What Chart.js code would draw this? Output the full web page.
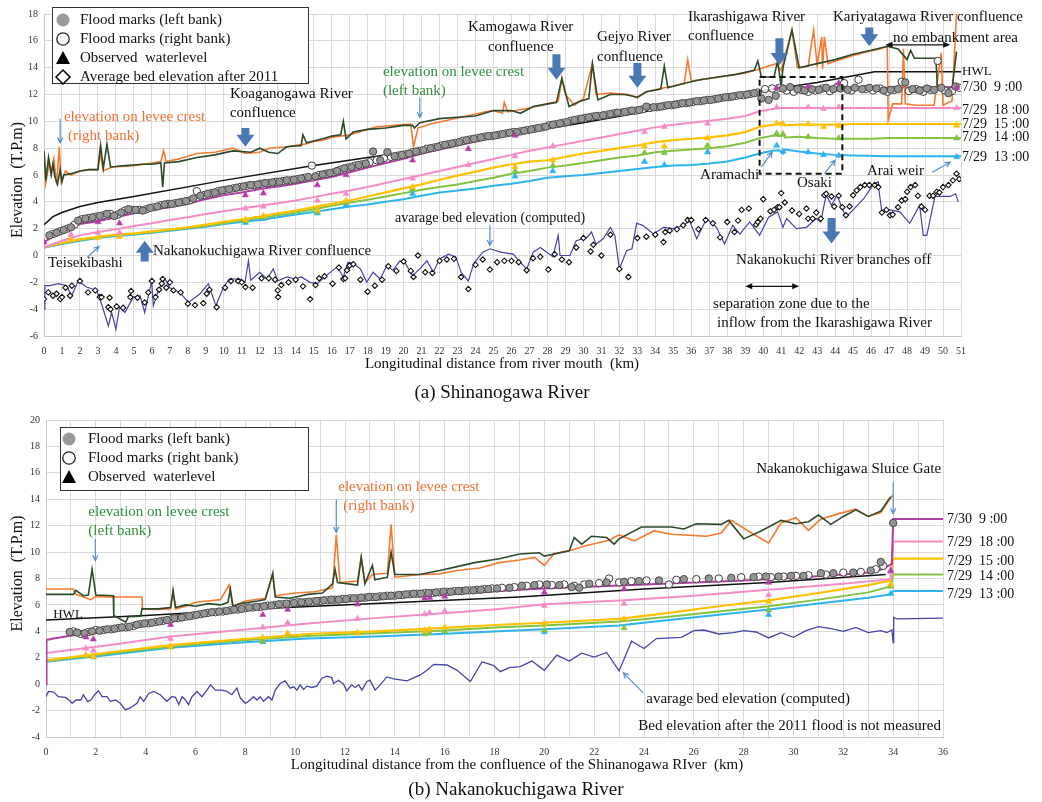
<!DOCTYPE html>
<html><head><meta charset="utf-8">
<script src="https://cdn.jsdelivr.net/npm/chart.js@4"></script>
<style>
html,body{margin:0;padding:0;background:#fff;}
#wrapA{position:absolute;left:0;top:0;width:1042px;height:405px;}
#wrapB{position:absolute;left:0;top:405px;width:1042px;height:397px;}
</style></head><body>
<div id="wrapA"><canvas id="cA" width="1042" height="405"></canvas></div>
<div id="wrapB"><canvas id="cB" width="1042" height="397"></canvas></div>
<script>
// ================= (a) Shinanogawa River data =================
const LEVEE_L_A = [[0,7.8],[0.1,5.6],[0.25,7.3],[0.4,6.0],[0.5,6.8],[0.6,5.9],[0.75,5.3],[0.9,6.4],[1.0,5.5],[1.1,6.0],[1.5,6.1],[2.0,6.3],[2.5,6.4],[3.0,6.4],[3.15,8.2],[3.3,6.5],[3.5,8.3],[3.7,6.6],[4.5,6.7],[5.5,6.8],[6.0,6.8],[6.5,6.9],[6.6,5.1],[6.7,6.9],[7.5,7.0],[8.5,7.3],[9.5,7.5],[10.5,7.8],[11.5,7.7],[12.0,8.0],[12.5,7.7],[13.0,7.6],[13.5,8.1],[14.3,8.2],[14.4,9.0],[14.6,8.4],[15.5,8.7],[16.0,8.9],[16.5,9.0],[16.65,10.0],[16.8,8.7],[17.2,9.2],[18.0,9.4],[19.0,9.5],[20.0,9.7],[20.5,9.7],[20.6,9.5],[20.9,9.9],[22.0,10.2],[23.0,10.3],[24.0,10.4],[25.0,10.8],[26.0,10.8],[26.5,10.6],[27.2,11.1],[28.0,11.3],[28.5,11.4],[28.8,13.2],[29.2,11.1],[29.8,11.5],[30.3,11.7],[30.5,14.3],[30.8,11.6],[31.5,12.0],[32.3,12.0],[33.0,11.8],[33.5,12.2],[34.3,12.4],[34.5,14.1],[34.7,12.5],[35.5,12.8],[36.5,13.1],[37.5,13.3],[38.5,13.5],[39.5,13.8],[39.7,14.5],[39.9,13.3],[40.6,13.3],[40.8,14.5],[41.0,12.6],[41.1,14.0],[41.6,16.8],[42.0,14.0],[43.0,14.3],[44.0,14.6],[45.0,15.0],[46.0,15.3],[46.9,15.6],[47.5,15.4],[48.0,14.6],[48.2,15.3],[48.4,14.7],[49.6,14.7],[49.7,12.4],[50.5,12.4],[50.75,15.2]];
const LEVEE_R_A = [[0,7.8],[0.1,5.4],[0.3,7.0],[0.4,6.2],[0.55,7.2],[0.7,5.3],[0.85,8.1],[0.95,5.5],[1.2,6.3],[1.5,6.0],[2.0,6.3],[2.5,6.4],[3.0,6.4],[3.1,7.8],[3.3,6.3],[3.8,6.6],[5.0,6.7],[6.0,6.9],[6.5,7.0],[6.65,7.8],[6.8,7.0],[7.5,7.2],[8.5,7.6],[9.5,7.7],[10.5,8.0],[11.2,7.6],[12.0,7.7],[12.5,8.0],[13.5,8.1],[14.5,8.3],[15.0,8.5],[15.5,8.6],[16.0,8.8],[17.0,9.0],[18.5,9.6],[19.5,9.7],[20.4,9.8],[20.55,8.1],[20.8,9.5],[21.5,9.8],[22.5,10.1],[23.5,10.4],[24.5,10.7],[25.0,10.8],[25.5,10.6],[25.6,11.4],[25.8,10.7],[27.0,11.0],[28.0,11.3],[28.6,11.5],[28.8,13.2],[29.0,12.0],[29.5,11.2],[30.0,11.7],[30.5,14.3],[30.7,12.0],[31.5,12.1],[32.5,12.0],[33.0,11.75],[33.5,12.2],[34.5,12.5],[35.6,12.8],[35.8,14.6],[36.0,13.0],[37.0,13.2],[38.0,13.4],[39.0,13.6],[39.8,13.9],[40.7,14.3],[41.0,13.8],[41.6,16.8],[41.9,14.0],[42.5,14.1],[42.8,16.8],[43.0,14.2],[43.25,16.3],[43.3,13.9],[43.4,16.3],[43.6,14.3],[44.5,14.7],[45.5,15.1],[46.5,15.4],[46.9,15.6],[46.95,10.1],[47.2,11.3],[47.7,11.3],[47.8,15.4],[47.9,11.3],[48.5,11.2],[49.5,11.2],[49.9,15.1],[50.0,11.2],[50.3,11.4],[50.5,11.5],[50.75,18.0]];
const HWL_A = [[0,2.3],[0.5,2.9],[1,3.2],[2,3.65],[3,3.95],[5,4.4],[10,5.6],[15,6.7],[20,7.7],[25,8.8],[30,9.9],[35,11.1],[40,12.3],[43,12.9],[46.2,13.7],[51,13.7]];
const CALC_0730_09_A = [[0,1.0],[0.5,1.4],[1,1.75],[1.5,2.1],[2,2.35],[3,2.55],[4,2.85],[5,3.15],[6,3.4],[7,3.6],[8,3.85],[9,4.2],[10,4.5],[11,4.7],[12,4.95],[13,5.15],[14,5.35],[15,5.6],[16,5.85],[17,6.2],[18,6.55],[19,6.9],[20,7.2],[21,7.6],[22,7.9],[23,8.2],[24,8.5],[25,8.8],[26,9.1],[27,9.35],[28,9.55],[29,9.8],[30,10.05],[31,10.3],[32,10.55],[33,10.75],[34,11.0],[35,11.2],[36,11.4],[37,11.6],[38,11.8],[39,12.0],[40,12.25],[41,12.5],[42,12.5],[46,12.5],[51,12.55]];
const CALC_0729_18_A = [[0,0.6],[1,1.1],[2,1.5],[3,1.75],[4,1.95],[5,2.2],[6,2.4],[7,2.65],[8,2.85],[9,3.1],[10,3.3],[11,3.5],[12,3.7],[13,3.9],[14,4.1],[15,4.35],[16,4.6],[17,4.85],[18,5.1],[19,5.4],[20,5.7],[21,6.0],[22,6.3],[23,6.6],[24,6.9],[25,7.2],[26,7.5],[27,7.8],[28,8.05],[29,8.3],[30,8.55],[31,8.8],[32,9.05],[33,9.3],[34,9.55],[35,9.75],[36,9.9],[37,10.05],[38,10.2],[39,10.4],[39.8,10.75],[40.7,10.95],[41,11.0],[51,11.0]];
const CALC_0729_15_A = [[0,0.65],[1,0.95],[2,1.2],[3,1.4],[4,1.55],[5,1.65],[6,1.8],[7,1.95],[8,2.1],[9,2.3],[10,2.5],[11,2.7],[12,2.9],[13,3.15],[14,3.35],[15,3.6],[16,3.85],[17,4.1],[18,4.4],[19,4.7],[20,5.0],[21,5.3],[22,5.65],[23,5.95],[24,6.25],[25,6.55],[26,6.8],[27,7.0],[28,7.1],[29,7.35],[30,7.6],[31,7.8],[32,8.0],[33,8.2],[34,8.45],[35,8.6],[36,8.7],[37,8.8],[38,8.95],[39,9.2],[39.8,9.6],[40.6,9.75],[41.1,9.9],[41.2,9.7],[42,9.75],[44,9.75],[45,9.8],[51,9.8]];
const CALC_0729_14_A = [[0,0.6],[1,0.9],[2,1.15],[3,1.35],[4,1.5],[5,1.6],[6,1.75],[7,1.9],[8,2.05],[9,2.2],[10,2.4],[11,2.6],[12,2.8],[13,3.0],[14,3.2],[15,3.45],[16,3.7],[17,3.95],[18,4.15],[19,4.4],[20,4.65],[21,4.9],[22,5.1],[23,5.3],[24,5.55],[25,5.8],[26,6.1],[27,6.3],[28,6.55],[29,6.7],[30,6.9],[31,7.1],[32,7.3],[33,7.45],[34,7.7],[35,7.8],[36,7.9],[37,8.0],[38,8.15],[39,8.4],[39.8,8.75],[40.6,8.95],[41,8.9],[41.1,9.1],[41.2,8.8],[42,8.85],[43,8.75],[44,8.7],[46,8.7],[47,8.75],[51,8.75]];
const CALC_0729_13_A = [[0,0.6],[1,0.85],[2,1.1],[3,1.3],[4,1.45],[5,1.55],[6,1.7],[7,1.85],[8,2.0],[9,2.15],[10,2.35],[11,2.5],[12,2.65],[13,2.85],[14,3.05],[15,3.25],[16,3.45],[17,3.65],[18,3.8],[19,4.0],[20,4.2],[21,4.45],[22,4.7],[23,4.85],[24,5.0],[25,5.2],[26,5.35],[27,5.55],[28,5.8],[29,5.9],[30,6.0],[31,6.15],[32,6.3],[33,6.45],[34,6.6],[35,6.7],[36,6.75],[37,6.85],[38,7.0],[39,7.3],[39.8,7.6],[40.5,7.8],[40.9,7.85],[41.1,7.6],[41.2,7.9],[42,7.75],[43,7.6],[44,7.5],[45,7.45],[47,7.4],[51,7.4]];
const FM_LEFT_A = [[0.3,1.5],[0.7,1.7],[1.1,1.9],[1.5,2.1],[1.9,2.6],[2.3,2.75],[2.7,2.85],[3.1,2.95],[3.5,3.1],[3.9,2.95],[4.3,3.2],[4.7,3.45],[5.1,3.4],[5.5,3.35],[5.9,3.55],[6.3,3.65],[6.7,3.8],[7.1,3.85],[7.5,3.95],[7.9,4.05],[8.3,4.25],[8.7,4.45],[9.1,4.6],[9.5,4.7],[9.9,4.85],[10.3,4.95],[10.7,5.05],[11.1,5.15],[11.5,5.25],[11.9,5.3],[12.3,5.4],[12.7,5.45],[13.1,5.5],[13.5,5.6],[13.9,5.65],[14.3,5.75],[14.7,5.85],[15.1,5.9],[15.5,6.05],[15.9,6.15],[16.3,6.3],[16.7,6.5],[17.1,6.6],[17.5,6.75],[17.9,6.85],[18.3,7.75],[18.7,7.1],[19.1,7.7],[19.5,7.4],[19.9,7.5],[20.3,7.6],[20.7,7.75],[21.1,7.85],[21.5,8.0],[21.9,8.1],[22.3,8.25],[22.7,8.35],[23.1,8.45],[23.5,8.6],[23.9,8.7],[24.3,8.8],[24.7,8.9],[25.1,8.95],[25.5,9.05],[25.9,9.15],[26.3,9.2],[26.7,9.3],[27.1,9.4],[27.5,9.5],[27.9,9.6],[28.3,9.75],[28.7,9.85],[29.1,9.95],[29.5,10.1],[29.9,10.2],[30.3,10.3],[30.7,10.4],[31.1,10.45],[31.5,10.55],[31.9,10.65],[32.3,10.7],[32.7,10.8],[33.1,10.85],[33.5,11.1],[33.9,11.05],[34.3,11.1],[34.7,11.2],[35.1,11.25],[35.5,11.35],[35.9,11.4],[36.3,11.5],[36.7,11.55],[37.1,11.6],[37.5,11.7],[37.9,11.8],[38.3,11.85],[38.7,11.95],[39.1,12.0],[39.5,12.1],[39.9,11.7],[40.3,11.6],[40.7,11.9],[41.1,12.45],[41.5,12.55],[41.9,12.4],[42.3,12.3],[42.7,12.4],[43.1,12.35],[43.5,12.5],[43.9,12.4],[44.3,12.45],[44.7,12.35],[45.1,12.5],[45.5,12.4],[45.9,12.5],[46.3,12.45],[46.7,12.3],[47.1,12.35],[47.5,12.4],[47.9,12.9],[48.3,12.4],[48.7,12.3],[49.1,12.45],[49.5,12.35],[49.9,12.5],[50.3,12.1],[50.7,12.6]];
const FM_RIGHT_A = [[0.5,1.6],[0.9,1.8],[1.3,2.0],[1.7,2.3],[2.1,2.7],[2.5,2.8],[2.9,2.9],[3.3,3.0],[3.7,3.1],[4.1,3.05],[4.5,3.35],[4.9,3.4],[5.3,3.4],[5.7,3.45],[6.1,3.6],[6.5,3.75],[6.9,3.85],[7.3,3.9],[7.7,4.0],[8.1,4.1],[8.5,4.8],[8.9,4.5],[9.3,4.65],[9.7,4.8],[10.1,4.9],[10.5,5.0],[10.9,5.1],[11.3,5.2],[11.7,5.25],[12.1,5.35],[12.5,5.4],[12.9,5.5],[13.3,5.55],[13.7,5.6],[14.1,5.7],[14.5,5.8],[14.9,6.7],[15.3,6.0],[15.7,6.1],[16.1,6.2],[16.5,6.4],[16.9,6.55],[17.3,6.7],[17.7,6.8],[18.1,6.95],[18.5,7.1],[18.9,7.25],[19.3,7.35],[19.7,7.45],[20.1,7.55],[20.5,7.7],[20.9,7.8],[21.3,7.95],[21.7,8.05],[22.1,8.2],[22.5,8.3],[22.9,8.4],[23.3,8.55],[23.7,8.65],[24.1,8.75],[24.5,8.85],[24.9,8.9],[25.3,9.0],[25.7,9.1],[26.1,9.2],[26.5,9.25],[26.9,9.35],[27.3,9.45],[27.7,9.55],[28.1,9.7],[28.5,9.8],[28.9,9.9],[29.3,10.05],[29.7,10.15],[30.1,10.25],[30.5,10.35],[30.9,10.4],[31.3,10.5],[31.7,10.6],[32.1,10.65],[32.5,10.75],[32.9,10.8],[33.3,10.9],[33.7,11.0],[34.1,11.05],[34.5,11.15],[34.9,11.2],[35.3,11.3],[35.7,11.35],[36.1,11.45],[36.5,11.5],[36.9,11.6],[37.3,11.65],[37.7,11.75],[38.1,11.8],[38.5,11.9],[38.9,11.95],[39.3,12.05],[39.7,12.15],[40.1,12.4],[40.5,12.45],[40.9,12.5],[41.3,12.3],[41.7,12.2],[42.1,12.35],[42.5,12.2],[42.9,12.3],[43.3,12.45],[43.7,12.25],[44.1,12.55],[44.5,12.85],[44.9,12.3],[45.3,13.1],[45.7,12.4],[46.1,12.3],[46.5,12.45],[46.9,12.2],[47.3,12.35],[47.7,12.95],[48.1,12.25],[48.5,12.4],[48.9,12.2],[49.3,12.35],[49.7,14.5],[50.1,12.3],[50.5,12.25],[50.9,12.5]];
const STATIONS_A = [0,1.5,3.0,4.2,11.2,12.2,15.2,16.8,20.5,23.6,26.2,28.3,33.4,34.5,36.9,40.75,41.1,42.5,43.35,44.2,50.76];
const OBS_0730_09_A = [1.0,null,2.5,2.4,4.5,4.65,5.25,6.0,7.1,7.95,8.95,null,null,null,null,12.5,null,12.6,null,12.85,12.5];
const OBS_0729_18_A = [0.7,1.55,1.7,1.7,3.5,3.65,4.1,4.6,5.75,6.75,7.4,8.15,9.2,9.6,9.85,11.05,null,11.05,10.95,11.05,11.0];
const OBS_0729_15_A = [null,1.2,1.3,1.4,2.65,2.95,3.4,4.1,5.1,null,6.6,7.1,8.15,8.15,8.75,9.85,9.8,9.8,9.6,9.65,9.7];
const OBS_0729_14_A = [null,null,null,null,2.55,2.85,3.25,3.95,4.95,null,6.3,6.7,7.65,7.65,8.2,9.1,9.05,8.85,null,8.75,8.75];
const OBS_0729_13_A = [null,null,null,null,2.45,2.75,3.15,3.75,4.6,null,5.9,6.3,7.0,6.75,7.7,8.2,7.75,7.7,7.5,7.45,7.35];
const BED_COMP_A = [[0,-4.0],[0.05,-2.25],[0.33,-2.25],[0.8,-2.1],[1.26,-2.25],[1.54,-3.0],[1.9,-1.9],[2.37,-2.35],[2.93,-2.6],[3.2,-3.6],[3.58,-5.25],[3.76,-4.25],[4.0,-5.5],[4.2,-3.85],[4.5,-4.25],[4.97,-3.1],[5.34,-3.0],[5.6,-4.25],[5.99,-1.9],[6.08,-3.75],[6.36,-2.6],[6.73,-1.75],[7.0,-2.4],[7.56,-2.75],[8.03,-3.5],[8.68,-2.85],[9.14,-2.1],[9.56,-3.75],[9.97,-2.4],[10.3,-1.75],[10.9,-1.75],[11.18,-2.0],[11.37,-0.4],[11.5,-1.85],[12.0,-1.25],[12.4,-1.75],[12.75,-1.0],[13.0,-1.9],[13.5,-1.6],[13.96,-1.75],[14.3,-1.6],[14.8,-2.0],[15.2,-2.1],[15.7,-1.5],[16.3,-0.85],[16.65,-1.6],[16.9,-0.5],[17.2,-0.6],[17.6,-1.0],[17.95,-2.0],[18.3,-1.25],[18.7,-1.75],[19.06,-0.75],[19.4,-1.1],[19.8,-0.4],[20.1,-0.6],[20.5,-1.5],[20.9,-1.0],[21.3,-0.4],[21.65,-1.25],[22.0,-0.25],[22.5,0.1],[22.9,-0.1],[23.2,-1.25],[23.6,-1.9],[23.9,-0.6],[24.4,0.25],[24.8,0.5],[25.4,0.25],[26.1,0.1],[26.47,-0.5],[26.85,-1.0],[27.2,0.25],[27.6,0.6],[27.96,0.25],[28.3,-0.1],[28.6,1.5],[28.7,0.0],[29.25,0.0],[29.6,1.1],[30.2,1.35],[30.45,1.75],[30.7,0.85],[31.1,1.25],[31.5,2.1],[31.75,1.5],[32.0,-1.0],[32.4,0.35],[32.7,0.5],[32.96,2.4],[33.3,2.25],[33.9,1.6],[34.45,2.1],[35.0,2.0],[35.6,2.25],[35.9,2.6],[36.3,1.25],[36.85,2.75],[37.4,2.1],[37.85,0.85],[38.3,2.25],[38.7,1.6],[39.25,2.5],[39.8,1.5],[40.3,2.85],[40.8,3.25],[41.1,2.1],[41.3,2.75],[41.85,2.0],[42.4,2.1],[42.95,2.75],[43.2,2.5],[43.5,4.5],[43.8,3.75],[44.1,4.5],[44.6,2.85],[45.0,3.4],[45.6,4.25],[46.1,5.25],[46.4,5.5],[46.45,4.75],[46.6,3.25],[47.05,3.4],[47.6,3.25],[48.15,2.4],[48.7,3.75],[48.9,1.5],[49.1,1.5],[49.55,4.4],[50.0,4.4],[50.4,4.4],[50.7,4.6],[50.85,4.0]];
const BED_2011_A = [[0,-3.25],[0.24,-2.75],[0.5,-3.0],[0.7,-2.85],[0.9,-3.25],[1.0,-3.1],[1.2,-2.4],[1.45,-3.0],[1.55,-2.25],[2.0,-1.9],[2.45,-2.75],[2.85,-2.6],[3.1,-3.1],[3.2,-3.1],[3.58,-3.85],[3.65,-3.15],[3.7,-4.0],[4.04,-3.8],[4.4,-3.9],[4.8,-3.1],[4.84,-2.65],[5.2,-3.15],[5.6,-3.5],[5.8,-2.75],[6.0,-1.9],[6.2,-3.1],[6.4,-2.55],[6.55,-2.1],[6.6,-1.75],[6.8,-2.4],[7.0,-2.0],[7.2,-2.6],[7.6,-2.75],[8.0,-3.6],[8.4,-3.7],[8.86,-3.55],[9.05,-2.85],[9.2,-2.55],[9.6,-3.85],[10.07,-2.4],[10.4,-1.9],[10.8,-1.9],[11.0,-2.0],[11.2,-2.35],[11.6,-2.4],[12.1,-1.7],[12.5,-1.7],[12.85,-1.8],[13.0,-2.6],[13.02,-3.1],[13.2,-2.2],[13.6,-2.0],[14.0,-1.8],[14.4,-2.3],[14.8,-3.25],[15.1,-2.2],[15.3,-1.7],[15.6,-1.55],[16.05,-2.1],[16.4,-0.9],[16.65,-1.75],[16.75,-1.7],[16.85,-1.1],[17.0,-0.75],[17.2,-0.65],[17.6,-1.8],[18.0,-2.7],[18.4,-2.25],[18.8,-1.8],[19.15,-0.8],[19.6,-1.15],[20.0,-0.45],[20.4,-1.15],[20.55,-1.6],[20.8,0.0],[21.2,-1.25],[21.6,-1.3],[22.0,-0.4],[22.4,-0.3],[22.8,-0.25],[23.2,-1.6],[23.6,-2.5],[24.0,-0.7],[24.4,-0.3],[24.8,-1.05],[25.2,-0.5],[25.6,-0.4],[26.0,-0.4],[26.4,-0.5],[26.85,-1.1],[27.2,-0.2],[27.6,-0.1],[28.05,-1.05],[28.4,0.1],[28.8,-0.3],[29.2,-0.5],[29.6,0.6],[30.0,1.3],[30.4,0.3],[30.55,0.8],[31.0,0.0],[31.5,1.55],[32.0,-1.0],[32.5,-1.6],[33.0,1.3],[33.5,1.4],[34.0,1.55],[34.45,1.0],[34.55,1.75],[34.8,1.85],[35.2,1.95],[35.55,2.25],[35.8,2.65],[36.0,2.65],[36.4,1.95],[36.8,2.65],[37.2,2.4],[37.6,1.35],[38.0,2.5],[38.4,1.75],[38.6,2.6],[38.8,3.4],[39.2,3.5],[39.6,2.3],[39.7,2.5],[39.85,2.75],[40.0,4.2],[40.4,3.3],[40.6,3.4],[40.8,3.6],[40.9,3.6],[41.0,4.65],[41.2,3.95],[41.6,3.35],[42.0,3.1],[42.4,3.5],[42.5,2.75],[42.75,2.75],[42.95,3.2],[43.2,2.75],[43.4,4.5],[43.5,4.6],[43.8,4.4],[43.95,3.65],[44.2,4.45],[44.4,3.6],[44.6,3.0],[44.8,3.65],[45.0,4.5],[45.2,4.85],[45.4,5.1],[45.65,5.25],[45.9,5.25],[46.2,5.25],[46.4,5.1],[46.6,3.2],[46.85,3.4],[47.05,3.0],[47.2,3.05],[47.5,3.6],[47.7,4.1],[47.9,4.2],[48.0,4.75],[48.2,5.1],[48.45,5.25],[48.6,4.45],[48.8,3.65],[49.0,3.4],[49.25,4.45],[49.45,4.45],[49.65,4.75],[49.8,4.7],[50.0,5.1],[50.3,5.25],[50.55,5.6],[50.75,6.1],[50.9,5.7]];

// ================= (b) Nakanokuchigawa River data =================
const LEVEE_L_B = [[0,6.8],[1.1,6.8],[1.2,7.1],[1.5,6.7],[1.7,6.75],[1.85,8.7],[2.0,6.75],[2.7,6.7],[2.72,5.2],[3.2,4.7],[3.3,5.1],[3.8,5.15],[3.85,5.7],[4.5,5.7],[5.0,5.8],[5.1,7.1],[5.2,5.8],[5.6,6.0],[6.0,5.9],[6.5,6.1],[7.0,6.0],[7.3,6.2],[7.4,7.2],[7.5,5.9],[7.8,6.1],[8.5,6.3],[8.8,6.4],[9.1,8.4],[9.2,6.6],[9.8,6.5],[10.5,6.8],[11.1,6.9],[11.5,7.6],[11.6,8.7],[11.7,7.7],[12.5,7.5],[12.65,9.6],[12.8,7.6],[13.1,9.0],[13.2,7.9],[13.7,8.1],[13.85,10.0],[14.0,8.3],[15.0,8.3],[15.8,8.6],[16.5,8.9],[17.2,9.2],[18.2,9.5],[19.0,9.85],[19.8,9.95],[20.0,9.7],[21.0,10.1],[21.2,11.1],[21.5,10.6],[21.9,11.2],[22.5,11.1],[22.8,10.6],[23.0,11.0],[23.9,11.9],[25.1,11.9],[25.6,11.75],[26.1,12.15],[27.1,12.1],[27.4,12.4],[28.0,11.0],[28.7,11.6],[29.5,12.4],[30.1,12.15],[30.6,12.3],[31.0,12.8],[31.5,12.1],[32.0,12.7],[32.5,13.2],[33.0,12.7],[33.5,13.1],[33.9,14.2]];
const LEVEE_R_B = [[0,7.2],[1.1,7.2],[1.2,6.8],[1.8,6.4],[2.0,6.65],[2.5,6.6],[3.85,6.6],[3.87,5.7],[4.5,5.65],[5.0,5.7],[5.1,7.0],[5.2,5.7],[5.6,5.9],[6.0,6.2],[6.5,6.3],[7.0,6.4],[7.35,7.5],[7.5,5.9],[8.0,6.3],[8.8,6.5],[9.1,8.3],[9.2,6.7],[10.0,6.9],[10.8,7.0],[11.5,7.3],[11.65,11.3],[11.8,7.7],[12.5,7.8],[12.65,9.6],[12.8,7.7],[13.1,8.3],[13.7,8.4],[13.85,12.1],[14.0,8.1],[15.0,8.3],[15.8,8.35],[16.5,8.6],[17.4,8.8],[18.2,9.2],[19.0,9.4],[19.6,9.6],[20.0,9.0],[20.4,9.9],[21.0,10.1],[21.7,10.5],[22.6,10.9],[23.0,11.3],[23.6,10.85],[24.4,11.6],[25.1,11.35],[26.5,11.2],[27.1,11.45],[27.5,12.4],[28.4,11.35],[29.0,10.7],[29.5,12.2],[30.1,12.6],[30.6,11.65],[31.1,12.5],[31.9,12.95],[32.5,13.25],[33.0,12.7],[33.5,13.0],[34.0,14.35]];
const HWL_B = [[0,4.85],[4,5.2],[9,5.75],[15,6.25],[19,6.6],[24,7.2],[29,7.7],[33.7,8.3]];
const CALC_0730_09_B = [[0,0],[0.02,3.35],[0.3,3.45],[1.1,3.7],[2.45,4.1],[3.5,4.45],[5.1,4.9],[6.5,5.25],[7.8,5.55],[9.0,5.8],[10.5,6.05],[12.0,6.25],[13.2,6.4],[14.5,6.6],[15.8,6.75],[17.0,6.9],[18.2,7.05],[19.0,7.15],[20.0,7.25],[22.0,7.4],[24.0,7.55],[26.0,7.7],[28.0,7.85],[30.0,8.05],[32.0,8.3],[33.0,8.45],[33.5,8.65],[33.95,9.1],[34.0,12.5],[36.0,12.5]];
const CALC_0729_18_B = [[0,2.35],[2.5,2.95],[5,3.6],[7.8,4.1],[10.5,4.6],[13.2,5.0],[15.8,5.35],[18.2,5.7],[20,6.05],[23.2,6.35],[26,6.7],[29,7.15],[32,7.6],[33.9,7.95],[34.0,10.8],[36,10.8]];
const CALC_0729_15_B = [[0,1.8],[2.5,2.4],[5,2.95],[7.8,3.4],[10.5,3.8],[13.2,4.0],[15.8,4.25],[18.2,4.5],[20,4.65],[23,4.95],[25,5.4],[27,5.9],[29,6.35],[31,6.9],[33,7.5],[33.9,7.85],[34.0,9.5],[36,9.5]];
const CALC_0729_14_B = [[0,1.75],[2.5,2.3],[5,2.85],[7.8,3.3],[10.5,3.65],[13.2,3.85],[15.8,4.05],[18.2,4.3],[20,4.45],[23,4.75],[25,5.1],[27,5.5],[29,5.9],[31,6.4],[33,6.95],[33.9,7.4],[34.0,8.3],[36,8.3]];
const CALC_0729_13_B = [[0,1.7],[2.5,2.2],[5,2.75],[7.8,3.15],[10.5,3.45],[13.2,3.6],[15.8,3.8],[18.2,4.0],[20,4.15],[23,4.45],[25,4.85],[27,5.25],[29,5.65],[31,6.1],[33,6.55],[33.9,6.8],[34.0,7.05],[36,7.05]];
const FM_LEFT_B = [[0.95,3.95],[1.25,3.9],[1.55,3.85],[1.85,4.0],[2.15,4.05],[2.45,4.15],[2.75,4.2],[3.05,4.3],[3.35,4.35],[3.65,4.5],[3.95,4.6],[4.25,4.65],[4.55,4.75],[4.85,4.85],[5.15,5.0],[5.45,5.05],[5.75,5.15],[6.05,5.25],[6.35,5.35],[6.65,5.45],[6.95,5.5],[7.25,5.55],[7.55,5.65],[7.85,5.7],[8.15,5.8],[8.45,5.85],[8.75,5.9],[9.05,5.95],[9.35,6.05],[9.65,6.1],[9.95,6.15],[10.25,6.2],[10.55,6.25],[10.85,6.3],[11.15,6.35],[11.45,6.4],[11.75,6.4],[12.05,6.45],[12.35,6.5],[12.65,6.55],[12.95,6.6],[13.25,6.6],[13.55,6.65],[13.85,6.7],[14.15,6.75],[14.45,6.8],[14.75,6.85],[15.05,6.85],[15.35,6.9],[15.65,6.95],[15.95,7.0],[16.25,7.0],[16.55,7.05],[16.85,7.1],[17.15,7.1],[17.45,7.15],[17.75,7.2],[18.1,7.25],[18.6,7.3],[19.1,7.45],[19.6,7.5],[20.1,7.55],[20.6,7.5],[21.1,7.35],[21.4,7.3],[21.8,7.6],[22.5,7.7],[23.2,7.75],[23.8,7.8],[24.6,7.85],[25.6,7.95],[26.6,8.0],[27.5,8.05],[28.4,8.1],[28.9,8.15],[29.4,8.15],[29.9,8.2],[30.4,8.2],[31.1,8.4],[31.6,8.4],[32.4,8.45],[33.1,8.6],[33.5,9.25],[34.0,12.2]];
const FM_RIGHT_B = [[1.1,4.0],[1.4,3.8],[1.7,3.95],[2.0,4.1],[2.3,4.1],[2.6,4.15],[2.9,4.25],[3.2,4.3],[3.5,4.4],[3.8,4.55],[4.1,4.6],[4.4,4.7],[4.7,4.8],[5.0,4.9],[5.3,5.0],[5.6,5.1],[5.9,5.2],[6.2,5.3],[6.5,5.4],[6.8,5.45],[7.1,5.5],[7.4,5.6],[7.7,5.65],[8.0,5.75],[8.3,5.8],[8.6,5.85],[8.9,5.95],[9.2,6.0],[9.5,6.05],[9.8,6.1],[10.1,6.2],[10.4,6.2],[10.7,6.25],[11.0,6.3],[11.3,6.35],[11.6,6.4],[11.9,6.45],[12.2,6.5],[12.5,6.5],[12.8,6.55],[13.1,6.6],[13.4,6.65],[13.7,6.7],[14.0,6.7],[14.3,6.75],[14.6,6.8],[14.9,6.85],[15.2,6.9],[15.5,6.9],[15.8,6.95],[16.1,7.0],[16.4,7.05],[16.7,7.05],[17.0,7.1],[17.3,7.15],[17.6,7.2],[17.9,7.25],[18.3,7.3],[18.8,7.35],[19.3,7.45],[19.8,7.55],[20.3,7.5],[20.8,7.55],[21.2,7.45],[21.6,7.55],[22.2,7.65],[22.6,8.0],[23.0,7.7],[23.5,7.8],[24.1,7.85],[25.0,7.55],[25.3,7.9],[26.1,7.95],[27.0,8.0],[27.9,8.1],[28.6,8.15],[29.1,8.1],[29.6,8.15],[30.1,8.2],[30.6,8.25],[31.3,8.3],[32.0,8.45],[32.7,8.5],[33.3,8.7],[33.6,8.95]];
const STATIONS_B = [1.6,1.9,5.0,8.7,9.7,12.5,15.2,15.4,16.0,20.0,23.2,29.0,33.9];
const OBS_0730_09_B = [3.55,3.4,4.5,5.25,5.65,6.05,6.5,6.55,6.65,6.95,7.2,7.7,8.6];
const OBS_0729_18_B = [2.7,2.55,3.45,4.3,4.65,4.95,5.3,5.4,5.55,5.95,6.1,6.75,8.5];
const OBS_0729_15_B = [2.2,2.1,2.85,3.55,3.85,3.9,4.05,4.15,4.3,4.6,4.95,6.25,7.55];
const OBS_0729_14_B = [2.15,2.05,2.8,3.25,3.8,3.85,3.8,3.9,4.0,4.1,4.25,5.6,7.4];
const OBS_0729_13_B = [null,null,null,3.2,null,null,null,null,null,3.95,null,5.25,6.85];
const BED_COMP_B = [[0,-0.95],[0.1,-0.55],[0.3,-0.6],[0.5,-0.95],[0.78,-1.0],[0.98,-1.3],[1.05,-1.45],[1.2,-1.2],[1.4,-1.2],[1.5,-0.8],[1.67,-1.3],[1.8,-1.2],[1.95,-0.8],[2.1,-0.5],[2.25,-0.95],[2.45,-0.95],[2.58,-1.3],[2.78,-1.2],[2.98,-1.45],[3.18,-1.95],[3.38,-1.8],[3.65,-1.45],[3.78,-0.95],[3.92,-1.3],[4.12,-0.7],[4.32,-0.55],[4.58,-0.8],[4.85,-1.3],[5.05,-0.95],[5.2,-1.0],[5.33,-1.55],[5.46,-0.95],[5.6,-1.2],[5.72,-1.55],[5.86,-0.95],[6.06,-0.55],[6.26,-0.95],[6.46,-0.45],[6.6,-0.05],[6.8,-0.45],[7.06,-0.45],[7.26,-0.55],[7.46,-0.8],[7.66,-0.3],[7.8,-1.05],[8.0,-1.45],[8.13,-1.3],[8.33,-0.95],[8.47,-1.2],[8.6,-0.95],[8.73,-1.3],[8.93,-0.95],[9.07,-1.2],[9.2,-0.45],[9.4,0.05],[9.6,0.25],[9.8,-0.3],[9.94,-0.2],[10.07,-0.45],[10.2,-0.05],[10.34,-0.4],[10.47,-0.15],[10.67,-0.25],[10.87,-0.15],[11.07,0.45],[11.27,0.6],[11.47,0.5],[11.54,0.05],[11.74,0.3],[11.94,0.0],[12.07,-0.5],[12.27,-0.05],[12.4,-0.25],[12.55,-0.05],[12.68,-0.45],[12.88,0.2],[13.0,0.3],[13.21,-0.45],[13.41,-0.05],[13.68,0.55],[13.95,0.4],[14.49,0.25],[15.02,0.7],[15.29,1.05],[15.56,1.5],[16.09,1.45],[16.5,1.05],[17.03,0.2],[17.5,1.7],[17.97,1.4],[18.23,0.95],[18.6,1.25],[19.03,1.33],[19.5,1.75],[20.0,1.05],[20.5,2.2],[21.0,1.75],[21.5,2.35],[22.0,2.05],[22.5,2.4],[23.0,1.0],[23.5,3.25],[24.0,2.7],[24.5,3.45],[25.5,3.55],[26.0,4.05],[26.4,4.1],[27.0,3.8],[27.6,3.9],[28.0,4.05],[28.5,3.95],[29.0,3.5],[29.5,3.9],[30.0,3.55],[30.5,4.05],[31.0,4.35],[31.5,4.2],[32.0,4.0],[32.5,4.3],[33.0,3.9],[33.5,4.05],[33.75,3.9],[33.95,4.1],[34.0,3.15],[34.02,5.05],[34.15,4.95],[36.0,5.0]];

// ================= tick labels / series names =================
const TIME_LABELS = ['7/30  9 :00','7/29  18 :00','7/29  15 :00','7/29  14 :00','7/29  13 :00'];
const LEGEND_A = ['Flood marks (left bank)','Flood marks (right bank)','Observed  waterlevel','Average bed elevation after 2011'];
const LEGEND_B = ['Flood marks (left bank)','Flood marks (right bank)','Observed  waterlevel'];

// ================= styling =================
const FONT = '"Liberation Serif", "Times New Roman", serif';
const C = {purple:'#b23ea3', pink:'#f58cc8', yellow:'#ffc000', lgreen:'#82c341', cyan:'#2db4ee',
  levL:'#2c4a2c', levR:'#f47a30', navy:'#4545a8', arrow:'#4a78b4', thin:'#5b8fd2', txtGreen:'#2f8f40', txtOrange:'#f07030'};

const P = arr => arr.map(p => ({x:p[0], y:p[1]}));
const OBS = (st, v) => st.map((s,i) => v[i]==null ? null : {x:s, y:v[i]}).filter(Boolean);
const line = (data, color, w, order) => ({data:P(data), showLine:true, borderColor:color, backgroundColor:color, borderWidth:w, pointRadius:0, order});
const tri = (data, color, order) => ({data, showLine:false, pointStyle:'triangle', pointRadius:3.6, backgroundColor:color, borderColor:color, borderWidth:0.5, order});
const fmFill = (data, order) => ({data:P(data), showLine:false, pointStyle:'circle', pointRadius:3.7, backgroundColor:'#959595', borderColor:'#4a4a4a', borderWidth:1, order});
const fmOpen = (data, order) => ({data:P(data), showLine:false, pointStyle:'circle', pointRadius:3.7, backgroundColor:'rgba(255,255,255,0.85)', borderColor:'#3c3c3c', borderWidth:1, order});

function bigArrow(ctx, x, y1, y2) {
  const dir = y2 > y1 ? 1 : -1, head = 12, hw = 9, sw = 4;
  ctx.fillStyle = C.arrow;
  ctx.beginPath();
  ctx.moveTo(x - sw, y1); ctx.lineTo(x + sw, y1);
  ctx.lineTo(x + sw, y2 - dir*head); ctx.lineTo(x + hw, y2 - dir*head);
  ctx.lineTo(x, y2); ctx.lineTo(x - hw, y2 - dir*head);
  ctx.lineTo(x - sw, y2 - dir*head); ctx.closePath(); ctx.fill();
}
function thinArrow(ctx, x1, y1, x2, y2) {
  const a = Math.atan2(y2-y1, x2-x1), h = 6;
  ctx.strokeStyle = C.thin; ctx.lineWidth = 1.2;
  ctx.beginPath(); ctx.moveTo(x1,y1); ctx.lineTo(x2,y2);
  ctx.moveTo(x2 - h*Math.cos(a-0.45), y2 - h*Math.sin(a-0.45)); ctx.lineTo(x2,y2);
  ctx.lineTo(x2 - h*Math.cos(a+0.45), y2 - h*Math.sin(a+0.45)); ctx.stroke();
}
function dblArrow(ctx, x1, x2, y) {
  ctx.strokeStyle = '#111'; ctx.fillStyle = '#111'; ctx.lineWidth = 1.3;
  ctx.beginPath(); ctx.moveTo(x1+4,y); ctx.lineTo(x2-4,y); ctx.stroke();
  [[x1,1],[x2,-1]].forEach(([x,d]) => { ctx.beginPath(); ctx.moveTo(x,y); ctx.lineTo(x+d*7,y-3); ctx.lineTo(x+d*7,y+3); ctx.closePath(); ctx.fill(); });
}
function symbol(ctx, s, x, y) {
  ctx.lineWidth = 1.3;
  if (s==='fill') { ctx.fillStyle='#9a9a9a'; ctx.beginPath(); ctx.arc(x,y,6.5,0,Math.PI*2); ctx.fill(); }
  else if (s==='open') { ctx.strokeStyle='#222'; ctx.fillStyle='#fff'; ctx.beginPath(); ctx.arc(x,y,6.2,0,Math.PI*2); ctx.fill(); ctx.stroke(); }
  else if (s==='tri') { ctx.fillStyle='#000'; ctx.beginPath(); ctx.moveTo(x,y-7); ctx.lineTo(x+7,y+6); ctx.lineTo(x-7,y+6); ctx.closePath(); ctx.fill(); }
  else if (s==='dia') { ctx.strokeStyle='#000'; ctx.fillStyle='#fff'; ctx.lineWidth=1.5; ctx.beginPath(); ctx.moveTo(x,y-7); ctx.lineTo(x+7,y); ctx.lineTo(x,y+7); ctx.lineTo(x-7,y); ctx.closePath(); ctx.fill(); ctx.stroke(); }
}

function annotPlugin(cfg) {
  return { id:'annot', afterDatasetsDraw(chart) {
    const ctx = chart.ctx, ca = chart.chartArea, X = v => chart.scales.x.getPixelForValue(v), Y = v => chart.scales.y.getPixelForValue(v);
    ctx.save();
    if (cfg.box) {
      const b = cfg.box; ctx.strokeStyle='#111'; ctx.lineWidth=2; ctx.setLineDash([6,4]);
      ctx.strokeRect(X(b.x1), Y(b.y2), X(b.x2)-X(b.x1), Y(b.y1)-Y(b.y2)); ctx.setLineDash([]);
    }
    (cfg.big||[]).forEach(a => bigArrow(ctx, X(a[0]), Y(a[1]), Y(a[2])));
    (cfg.thin||[]).forEach(a => thinArrow(ctx, X(a[0]), Y(a[1]), X(a[2]), Y(a[3])));
    (cfg.dbl||[]).forEach(a => dblArrow(ctx, X(a[0]), X(a[1]), Y(a[2])));
    ctx.textBaseline='middle'; ctx.textAlign='left';
    (cfg.texts||[]).forEach(t => { ctx.font = (t.size||15)+'px '+FONT; ctx.fillStyle = t.color||'#111'; ctx.fillText(t.t, X(t.x), Y(t.y)); });
    (cfg.right||[]).forEach(t => { ctx.font = (t.size||14)+'px '+FONT; ctx.fillStyle='#111'; ctx.fillText(t.t, ca.right + cfg.rightGap, Y(t.y)); });
    const lg = cfg.legend, lx = ca.left + lg.dx, ly = ca.top + lg.dy;
    ctx.fillStyle='#fff'; ctx.fillRect(lx, ly, lg.w, lg.h);
    ctx.strokeStyle='#333'; ctx.lineWidth=1; ctx.strokeRect(lx+0.5, ly+0.5, lg.w, lg.h);
    lg.items.forEach((lab,i) => { const cy = ly + lg.row0 + i*lg.rowH; symbol(ctx, lg.syms[i], lx + lg.symX, cy);
      ctx.font='15px '+FONT; ctx.fillStyle='#111'; ctx.textAlign='left'; ctx.textBaseline='middle'; ctx.fillText(lab, lx + lg.textX, cy); });
    ctx.fillStyle='#111'; ctx.textAlign='center'; ctx.textBaseline='middle';
    ctx.font='15px '+FONT; ctx.fillText(cfg.xTitle, cfg.xTitleX, ca.bottom + cfg.xTitleDy);
    ctx.font='19px '+FONT; ctx.fillText(cfg.caption, cfg.captionX, ca.bottom + cfg.captionDy);
    ctx.save(); ctx.translate(18, (ca.top+ca.bottom)/2 + cfg.yTitleDy); ctx.rotate(-Math.PI/2);
    ctx.font='16px '+FONT; ctx.fillText('Elevation  (T.P.m)', 0, 0); ctx.restore();
    ctx.restore();
  }};
}

function scales(xmax, ymin, ymax, yW, xH, everyOther) {
  return {
    x: { type:'linear', min:0, max:xmax, afterFit: s => { s.height = xH; },
      ticks:{ stepSize:1, autoSkip:false, maxRotation:0, padding:9, color:'#333', font:{family:FONT, size:10},
        callback: v => everyOther ? (v%2===0 ? v : '') : v },
      grid:{ color:'#dadada', drawTicks:false, lineWidth:1 }, border:{ color:'#c8c8c8' } },
    y: { type:'linear', min:ymin, max:ymax, afterFit: s => { s.width = yW; },
      ticks:{ stepSize:2, padding:6, color:'#333', font:{family:FONT, size:10} },
      grid:{ color:'#dadada', drawTicks:false }, border:{ color:'#c8c8c8' } }
  };
}

Chart.defaults.font.family = FONT;
Chart.defaults.animation = false;

new Chart(document.getElementById('cA'), {
  type:'scatter',
  data:{ datasets:[
    tri(OBS(STATIONS_A, OBS_0730_09_A), C.purple, 1),
    tri(OBS(STATIONS_A, OBS_0729_18_A), C.pink, 2),
    tri(OBS(STATIONS_A, OBS_0729_15_A), C.yellow, 3),
    tri(OBS(STATIONS_A, OBS_0729_14_A), C.lgreen, 4),
    tri(OBS(STATIONS_A, OBS_0729_13_A), C.cyan, 5),
    fmFill(FM_LEFT_A, 9), fmOpen(FM_RIGHT_A, 10),
    {data:P(BED_2011_A), showLine:false, pointStyle:'rectRot', pointRadius:2.7, backgroundColor:'#fff', borderColor:'#111', borderWidth:1.1, order:11},
    line(BED_COMP_A, C.navy, 1.2, 12),
    line(LEVEE_L_A, C.levL, 1.6, 13),
    line(LEVEE_R_A, C.levR, 1.6, 14),
    line(HWL_A, '#111', 1.5, 15),
    line(CALC_0730_09_A, C.purple, 2, 16),
    line(CALC_0729_18_A, C.pink, 2, 17),
    line(CALC_0729_15_A, C.yellow, 2.2, 18),
    line(CALC_0729_14_A, C.lgreen, 2, 19),
    line(CALC_0729_13_A, C.cyan, 2, 20)
  ]},
  options:{ responsive:false, events:[], animation:false,
    layout:{ padding:{ left:0, right:81, top:14, bottom:0 } },
    plugins:{ legend:{display:false}, tooltip:{enabled:false} },
    elements:{ line:{ tension:0 } },
    scales: scales(51, -6, 18, 44, 69, false) },
  plugins:[ annotPlugin({
    box:{x1:39.8, x2:44.4, y1:6.1, y2:13.3},
    big:[[11.2,9.5,8.1],[28.5,15.0,13.1],[33.0,14.35,12.5],[40.9,16.2,14.2],[45.9,17.0,15.6],[5.6,-0.45,1.1],[43.8,2.8,0.9]],
    thin:[[0.9,10.2,0.9,8.4],[20.9,11.8,20.9,10.3],[39.9,6.6,40.5,7.7],[43.4,6.1,44.0,7.1],[49.4,6.2,50.4,6.95],[2.4,-0.15,3.06,0.67],[24.8,2.25,24.8,0.75]],
    dbl:[[46.8,50.4,15.7],[39.0,42.0,-2.3]],
    texts:[
      {t:'Koaganogawa River', x:10.34, y:12.04},{t:'confluence', x:10.34, y:10.62},
      {t:'Kamogawa River', x:23.58, y:17.05},{t:'confluence', x:24.69, y:15.55},
      {t:'Gejyo River', x:30.76, y:16.3},{t:'confluence', x:30.76, y:14.8},
      {t:'Ikarashigawa River', x:35.82, y:17.8},{t:'confluence', x:35.82, y:16.37},
      {t:'Kariyatagawa River confluence', x:43.88, y:17.8},{t:'no embankment area', x:47.22, y:16.22},
      {t:'elevation on levee crest', x:1.11, y:10.32, color:C.txtOrange},{t:'(right bank)', x:1.33, y:8.9, color:C.txtOrange},
      {t:'elevation on levee crest', x:18.85, y:13.68, color:C.txtGreen},{t:'(left bank)', x:18.85, y:12.26, color:C.txtGreen},
      {t:'Aramachi', x:36.49, y:5.98},{t:'Osaki', x:41.88, y:5.38},{t:'Arai weir', x:45.77, y:6.28},
      {t:'Teisekibashi', x:0.22, y:-0.6},{t:'Nakanokuchigawa River confluence', x:6.06, y:0.3},
      {t:'avarage bed elevation (computed)', x:19.52, y:2.77, size:14},
      {t:'Nakanokuchi River branches off', x:38.49, y:-0.37},
      {t:'separation zone due to the', x:37.21, y:-3.59},{t:'inflow from the Ikarashigawa River', x:37.43, y:-5.01}
    ],
    rightGap:1,
    right:[{t:'HWL', y:13.68, size:13},{t:TIME_LABELS[0], y:12.56},{t:TIME_LABELS[1], y:10.84},{t:TIME_LABELS[2], y:9.79},{t:TIME_LABELS[3], y:8.82},{t:TIME_LABELS[4], y:7.33}],
    legend:{dx:8, dy:-7, w:256, h:76, row0:13, rowH:19, symX:11, textX:28, items:LEGEND_A, syms:['fill','open','tri','dia']},
    xTitle:'Longitudinal distance from river mouth  (km)', xTitleX:502, xTitleDy:28,
    caption:'(a) Shinanogawa River', captionX:502, captionDy:57, yTitleDy:5
  }) ]
});

new Chart(document.getElementById('cB'), {
  type:'scatter',
  data:{ datasets:[
    tri(OBS(STATIONS_B, OBS_0730_09_B), C.purple, 1),
    tri(OBS(STATIONS_B, OBS_0729_18_B), C.pink, 2),
    tri(OBS(STATIONS_B, OBS_0729_15_B), C.yellow, 3),
    tri(OBS(STATIONS_B, OBS_0729_14_B), C.lgreen, 4),
    tri(OBS(STATIONS_B, OBS_0729_13_B), C.cyan, 5),
    fmFill(FM_LEFT_B, 9), fmOpen(FM_RIGHT_B, 10),
    line(BED_COMP_B, C.navy, 1.3, 12),
    line(LEVEE_L_B, C.levL, 1.6, 13),
    line(LEVEE_R_B, C.levR, 1.6, 14),
    line(HWL_B, '#111', 1.5, 15),
    line(CALC_0730_09_B, C.purple, 2, 16),
    line(CALC_0729_18_B, C.pink, 2, 17),
    line(CALC_0729_15_B, C.yellow, 2.2, 18),
    line(CALC_0729_14_B, C.lgreen, 2, 19),
    line(CALC_0729_13_B, C.cyan, 2, 20)
  ]},
  options:{ responsive:false, events:[], animation:false,
    layout:{ padding:{ left:0, right:99, top:15, bottom:0 } },
    plugins:{ legend:{display:false}, tooltip:{enabled:false} },
    elements:{ line:{ tension:0 } },
    scales: scales(36, -4, 20, 46, 65, true) },
  plugins:[ annotPlugin({
    thin:[[1.98,11.0,1.98,9.35],[11.65,14.0,11.65,11.5],[34.0,15.3,34.0,12.9],[23.97,-0.66,23.17,0.86]],
    texts:[
      {t:'elevation on levee crest', x:1.7, y:13.0, color:C.txtGreen},{t:'(left bank)', x:1.7, y:11.57, color:C.txtGreen},
      {t:'elevation on levee crest', x:11.73, y:14.89, color:C.txtOrange},{t:'(right bank)', x:11.93, y:13.46, color:C.txtOrange},
      {t:'Nakanokuchigawa Sluice Gate', x:28.5, y:16.32},
      {t:'HWL', x:0.29, y:5.3, size:13},
      {t:'avarage bed elevation (computed)', x:24.09, y:-1.1},
      {t:'Bed elevation after the 2011 flood is not measured', x:23.77, y:-3.2}
    ],
    rightGap:4,
    right:[{t:TIME_LABELS[0], y:12.45},{t:TIME_LABELS[1], y:10.76},{t:TIME_LABELS[2], y:9.3},{t:TIME_LABELS[3], y:8.2},{t:TIME_LABELS[4], y:6.8}],
    legend:{dx:14, dy:7, w:248, h:63, row0:12, rowH:19, symX:9, textX:28, items:LEGEND_B, syms:['fill','open','tri']},
    xTitle:'Longitudinal distance from the confluence of the Shinanogawa RIver  (km)', xTitleX:517, xTitleDy:28,
    caption:'(b) Nakanokuchigawa River', captionX:516, captionDy:53, yTitleDy:-5
  }) ]
});
</script>
</body></html>
